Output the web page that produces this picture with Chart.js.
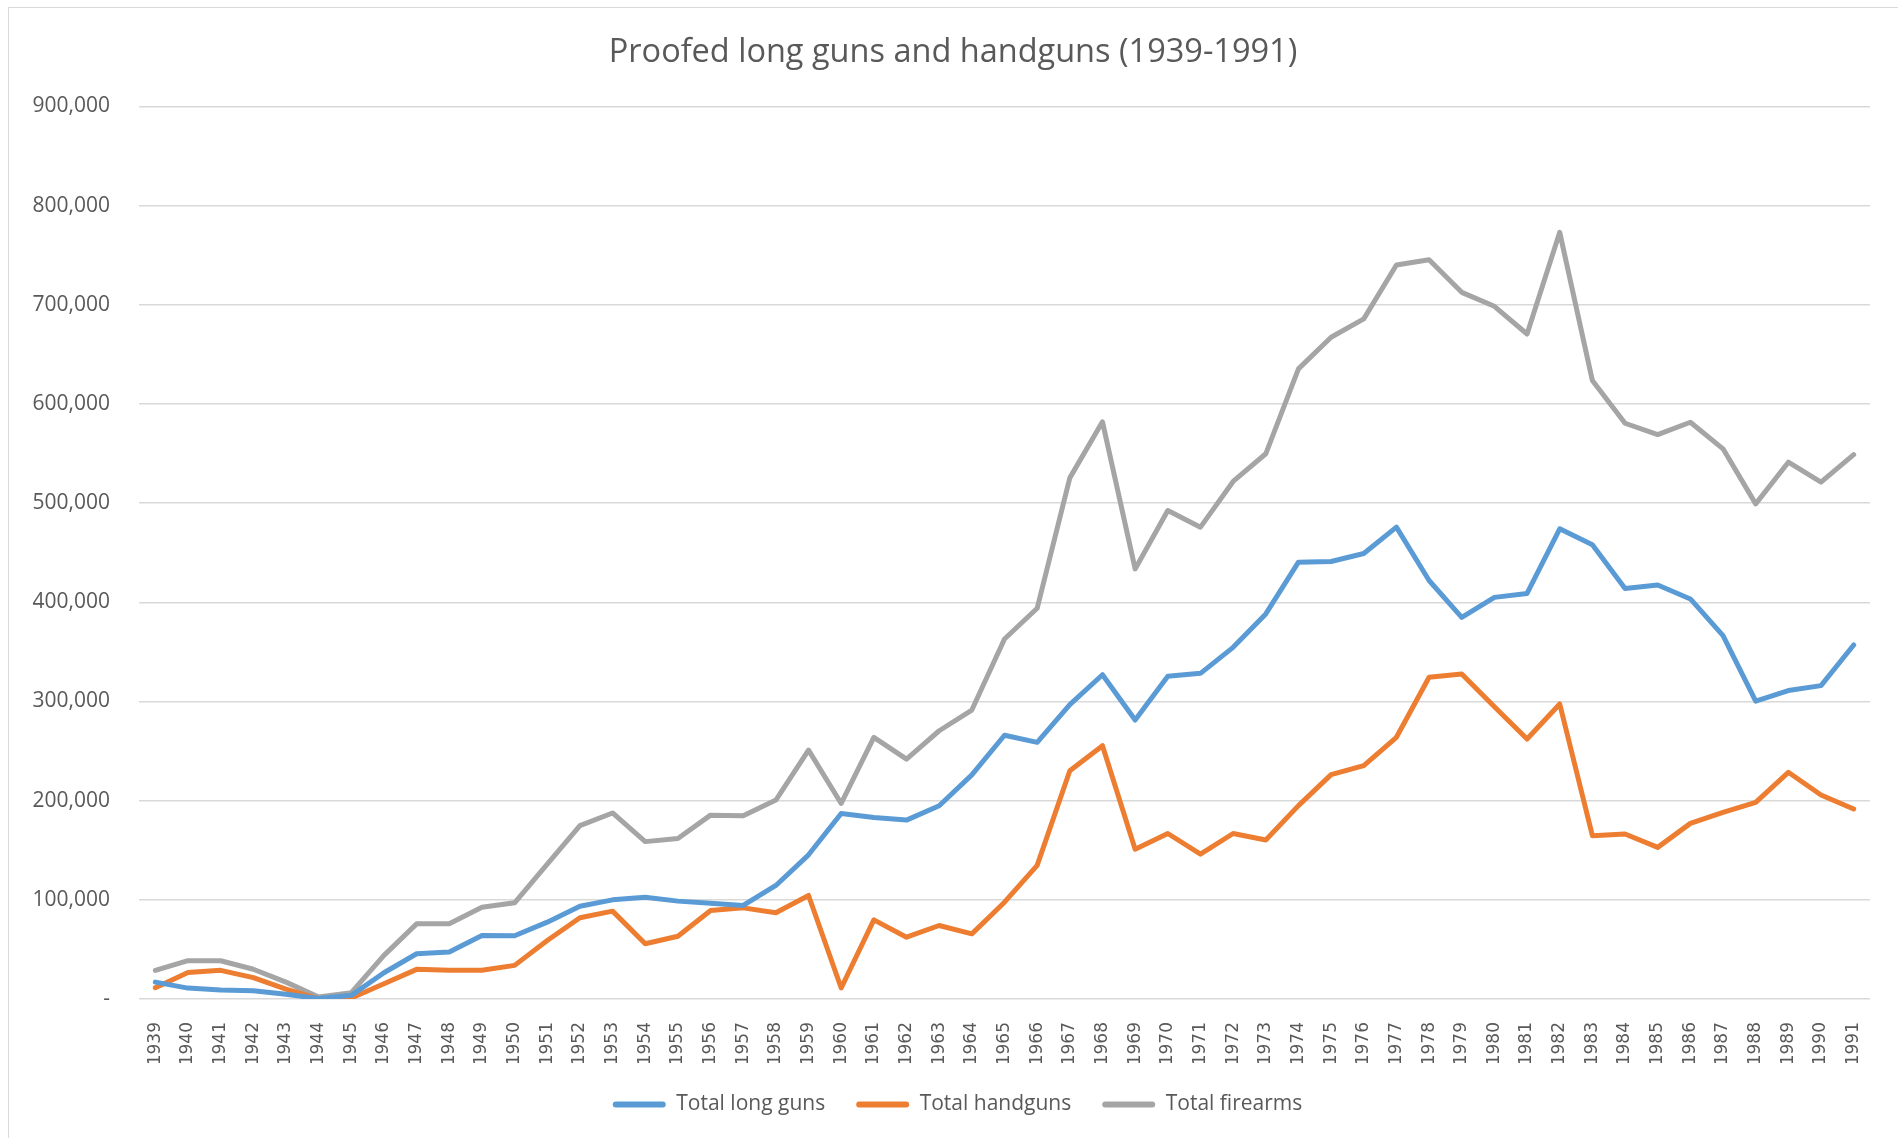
<!DOCTYPE html>
<html>
<head>
<meta charset="utf-8">
<script src="https://cdn.jsdelivr.net/npm/chart.js@4.4.1/dist/chart.umd.min.js"></script>
<style>
  html, body { margin: 0; padding: 0; background: #fff; overflow: hidden; }
  #wrap {
    position: absolute; left: 8px; top: 7px;
    width: 1890px; height: 1131px;
    border-left: 1px solid #d9d9d9; border-top: 1px solid #d9d9d9;
  }
</style>
</head>
<body>
<div id="wrap"><canvas id="gunsChart"></canvas></div>
<script>
const years = ['1939','1940','1941','1942','1943','1944','1945','1946','1947','1948',
  '1949','1950','1951','1952','1953','1954','1955','1956','1957','1958',
  '1959','1960','1961','1962','1963','1964','1965','1966','1967','1968',
  '1969','1970','1971','1972','1973','1974','1975','1976','1977','1978',
  '1979','1980','1981','1982','1983','1984','1985','1986','1987','1988',
  '1989','1990','1991'];

const longGuns = [17000, 11000, 9000, 8400, 4700, 500, 3700, 26500, 45600, 47300,
  64000, 63800, 77500, 93600, 100000, 102700, 98700, 96600, 94300, 114500,
  145400, 187000, 183000, 180400, 194900, 226000, 266000, 258800, 296800, 327000,
  281300, 325400, 328400, 354600, 388300, 440500, 441200, 449200, 475800, 422000,
  384900, 405000, 409000, 474100, 458000, 414000, 417500, 403400, 366400, 300300,
  311000, 316000, 357000];

const handguns = [11400, 26800, 28900, 21500, 10000, 0, 1000, 15400, 29900, 28900,
  28900, 33900, 59000, 81900, 88600, 55700, 63300, 89200, 91900, 86900,
  104400, 11100, 79800, 62300, 74100, 65700, 97600, 134700, 230200, 255400,
  151000, 166900, 146000, 166900, 160300, 195000, 226200, 235300, 263900, 324400,
  327700, 294800, 262200, 297500, 164700, 166400, 152900, 177100, 188200, 198300,
  228600, 205700, 191600];

const firearms = [28900, 38600, 38600, 30000, 17000, 2000, 6400, 44000, 75800, 75800,
  92600, 97000, 136000, 174800, 187600, 158700, 161900, 185400, 184800, 200600,
  251000, 197200, 263800, 241900, 270500, 291400, 363000, 394000, 525500, 582000,
  433700, 492600, 475800, 521900, 549800, 635400, 667300, 685800, 740200, 745500,
  712600, 698500, 670600, 773100, 623600, 580600, 569200, 581600, 554800, 499300,
  541300, 521200, 549000];

const yTicks = [0, 100000, 200000, 300000, 400000, 500000, 600000, 700000, 800000, 900000];

const textGrey = '#595959';
const font = "'Open Sans', sans-serif";

function series(label, data, color) {
  return {
    label: label,
    data: data,
    borderColor: color,
    backgroundColor: color,
    borderWidth: 5,
    borderJoinStyle: 'round',
    borderCapStyle: 'round',
    pointRadius: 0,
    tension: 0
  };
}

// the title and legend sit centred on the whole chart box, not on the padded area
const centreBlocks = {
  id: 'centreBlocks',
  afterLayout(chart) {
    const t = chart.titleBlock, l = chart.legend;
    t.left += 13.5; t.right += 13.5;
    l.left += 18; l.right += 18;
  }
};

new Chart(document.getElementById('gunsChart'), {
  type: 'line',
  data: {
    labels: years,
    datasets: [
      series('Total long guns', longGuns, '#5B9BD5'),
      series('Total handguns', handguns, '#ED7D31'),
      series('Total firearms', firearms, '#A5A5A5')
    ]
  },
  plugins: [centreBlocks],
  options: {
    responsive: true,
    maintainAspectRatio: false,
    animation: false,
    layout: { padding: { left: 0, right: 29, top: 22, bottom: 14 } },
    plugins: {
      title: {
        display: true,
        text: 'Proofed long guns and handguns (1939-1991)',
        color: textGrey,
        font: { family: font, size: 32.5, weight: 'normal' },
        padding: { top: 3.5, bottom: 34 }
      },
      legend: {
        position: 'bottom',
        labels: {
          color: textGrey,
          font: { family: font, size: 21 },
          boxWidth: 53,
          boxHeight: 6,
          useBorderRadius: true,
          borderRadius: 3,
          padding: 31,
          generateLabels(chart) {
            return chart.data.datasets.map((ds, i) => ({
              text: ds.label,
              fillStyle: ds.borderColor,
              strokeStyle: ds.borderColor,
              lineWidth: 0,
              fontColor: textGrey,
              hidden: false,
              borderRadius: 3,
              datasetIndex: i
            }));
          }
        }
      },
      tooltip: { enabled: false }
    },
    scales: {
      x: {
        offset: true,
        grid: { display: false },
        border: { display: false },
        afterFit(axis) { axis.height = 64; },
        ticks: {
          color: textGrey,
          font: { family: "'DejaVu Sans', sans-serif", size: 17 },
          minRotation: 90,
          maxRotation: 90,
          autoSkip: false,
          padding: 15
        }
      },
      y: {
        min: 0,
        max: 900000,
        afterBuildTicks(axis) {
          axis.ticks = yTicks.map(v => ({ value: v }));
        },
        afterFit(axis) { axis.width = 130; },
        grid: { color: '#d9d9d9', lineWidth: 1.5, drawTicks: false },
        border: { display: false },
        ticks: {
          color: textGrey,
          font: { family: font, size: 21 },
          padding: 29,
          callback: v => v === 0 ? '-' : v.toLocaleString('en-US')
        }
      }
    }
  }
});
</script>
</body>
</html>
